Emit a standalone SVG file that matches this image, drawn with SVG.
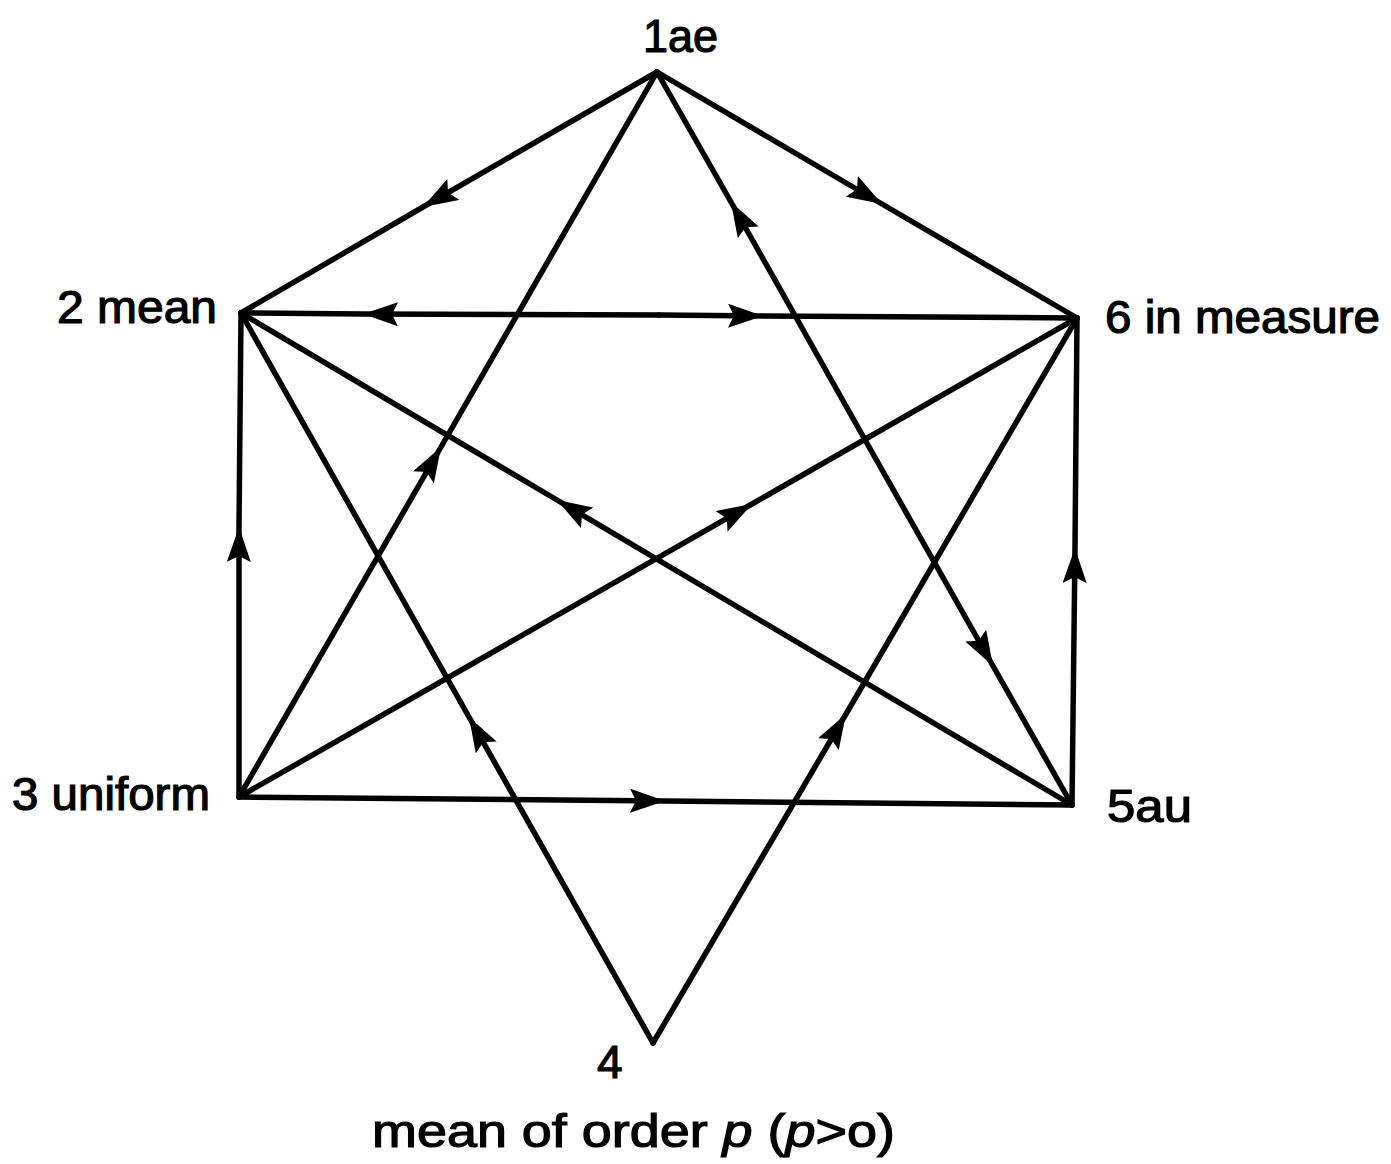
<svg xmlns="http://www.w3.org/2000/svg" width="1391" height="1164" viewBox="0 0 1391 1164">
<style>
.e{fill:none;stroke:#000;stroke-width:5.5;stroke-linecap:round;stroke-linejoin:round;marker-mid:url(#ah)}
.l{font-family:"Liberation Sans",Arial,sans-serif;font-size:46px;fill:#000;stroke:#000;stroke-width:1.2}
</style>
<defs>
<marker id="ah" markerUnits="userSpaceOnUse" viewBox="0 0 35 24" markerWidth="35" markerHeight="24" refX="35" refY="12" orient="auto">
<path d="M0,0 L35,12 L0,24 L6,12 z" fill="#000"/>
</marker>
</defs>
<rect width="1391" height="1164" fill="#fff"/>
<g id="connectors">
<path class="e" d="M657,72 L423,207 L241,313"/>
<path class="e" d="M657,72 L882,204 L1077,318"/>
<path class="e" d="M659,315 L363,314 L241,313"/>
<path class="e" d="M659,315 L763,316 L1077,318"/>
<path class="e" d="M239,797 L441,447 L657,72"/>
<path class="e" d="M864,438 L731,202 L657,72"/>
<path class="e" d="M864,438 L993,666 L1072,805"/>
<path class="e" d="M1072,805 L557,500 L241,313"/>
<path class="e" d="M239,797 L752,504 L1077,318"/>
<path class="e" d="M653,1043 L469,717 L241,313"/>
<path class="e" d="M653,1043 L846,714 L1077,318"/>
<path class="e" d="M239,797 L239,527 L241,313"/>
<path class="e" d="M1072,805 L1075,548 L1077,318"/>
<path class="e" d="M239,797 L665,801 L1072,805"/>
</g>
<g id="n1"><text class="l" x="643" y="52" textLength="75" lengthAdjust="spacingAndGlyphs">1ae</text></g>
<g id="n2"><text class="l" x="57" y="323" textLength="160" lengthAdjust="spacingAndGlyphs">2 mean</text></g>
<g id="n6"><text class="l" x="1105" y="333" textLength="275" lengthAdjust="spacingAndGlyphs">6 in measure</text></g>
<g id="n3"><text class="l" x="12" y="810" textLength="198" lengthAdjust="spacingAndGlyphs">3 uniform</text></g>
<g id="n5"><text class="l" x="1107" y="822" textLength="85" lengthAdjust="spacingAndGlyphs">5au</text></g>
<g id="n4">
<text class="l" x="597" y="1078">4</text>
<text class="l" x="372" y="1147" textLength="523" lengthAdjust="spacingAndGlyphs">mean of order <tspan font-style="italic">p</tspan> (<tspan font-style="italic">p</tspan>&gt;o)</text>
</g>
</svg>
